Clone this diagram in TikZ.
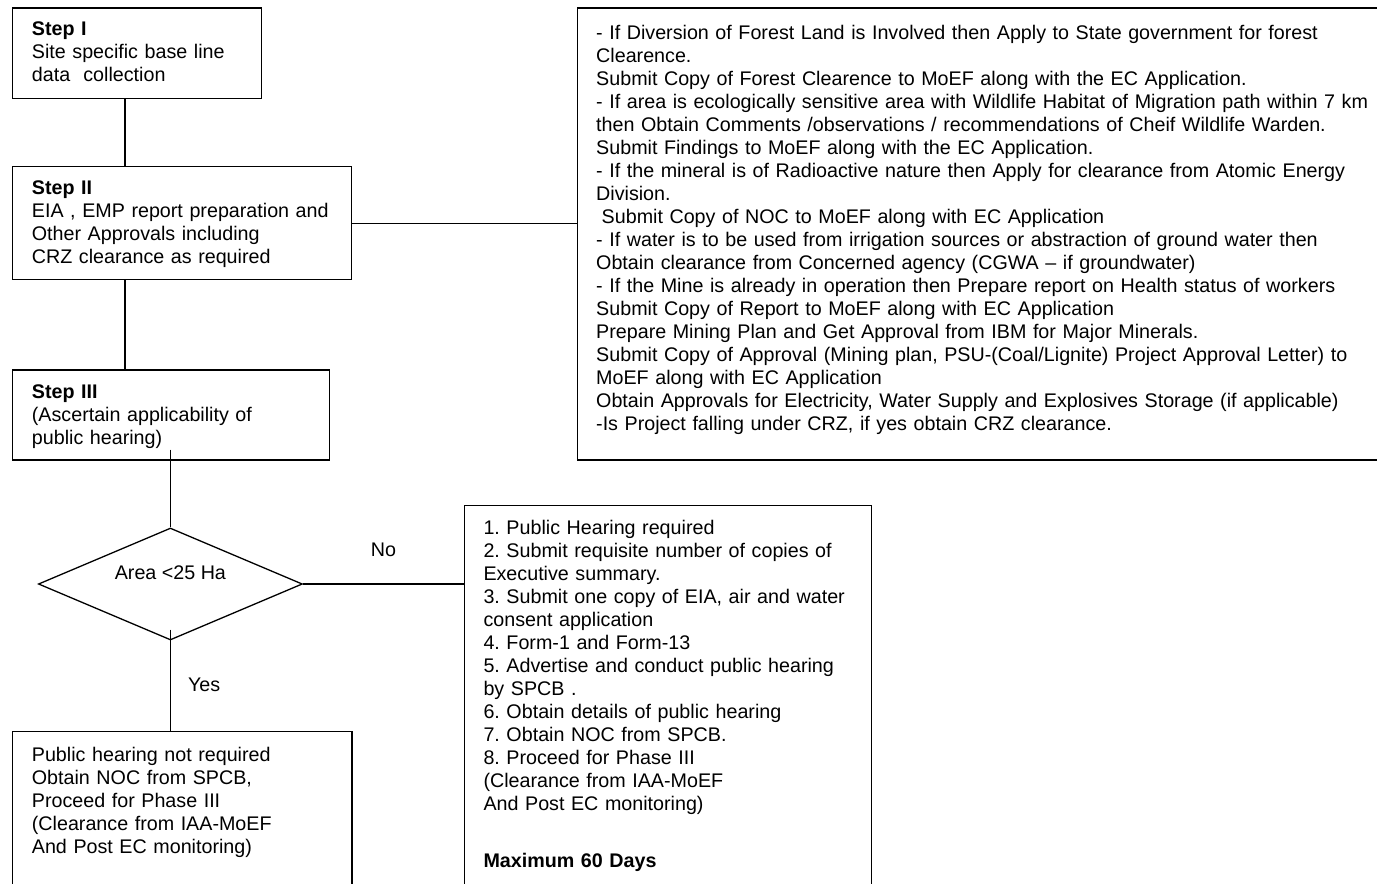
\documentclass[tikz,border=0pt]{standalone}
\usepackage{fontspec}
\setmainfont{Liberation Sans}
\usetikzlibrary{shapes.geometric,calc}
\frenchspacing

\begin{document}
\begin{tikzpicture}[x=1pt,y=-1pt,
    box/.style={draw,rectangle,line width=1.3pt,inner sep=0pt,anchor=north west},
    txt/.style={anchor=base west,inner sep=0pt,align=left,text width=#1,
        font=\fontsize{19.7pt}{23pt}\selectfont},
    link/.style={line width=1.3pt},
    lbl/.style={inner sep=0pt,font=\fontsize{19.7pt}{23pt}\selectfont}]
    % Page frame
    \useasboundingbox (0,0) rectangle (1377,884);
    \clip (0,0) rectangle (1377,884);

    % Boxes
    \node[box,minimum width=249pt,minimum height=90.7pt] (stepone) at (11.7,7.3) {};
    \node[box,minimum width=339.3pt,minimum height=113pt] (steptwo) at (11.7,166) {};
    \node[box,minimum width=317pt,minimum height=90pt] (stepthree) at (11.7,369.3) {};
    \node[box,minimum width=840pt,minimum height=452pt] (approvals) at (576.7,7.3) {};
    \node[box,minimum width=339.6pt,minimum height=180pt] (nohear) at (11.7,730.7) {};
    \node[box,minimum width=406.7pt,minimum height=400pt] (hear) at (464,505) {};

    % Decision
    \node[diamond,draw,line width=1.3pt,inner sep=0pt,
        minimum width=264pt,minimum height=112pt] (area) at (170.4,584) {};
    \node[lbl,anchor=base] (areatext) at ($(area.center)+(0,-5)$) {Area <25 Ha};

    % Box texts
    \node[txt=300pt] (onetext) at ($(stepone.north west)+(20,28.4)$)
        {\textbf{Step I}\\Site specific base line\\data~~collection};
    \node[txt=320pt] (twotext) at ($(steptwo.north west)+(20,28.3)$)
        {\textbf{Step II}\\EIA , EMP report preparation and\\Other Approvals including\\CRZ clearance as required};
    \node[txt=300pt] (threetext) at ($(stepthree.north west)+(20,29.3)$)
        {\textbf{Step III}\\(Ascertain applicability of\\public hearing)};
    \node[txt=800pt] (approvaltext) at ($(approvals.north west)+(19.3,31.7)$)
        {- If Diversion of Forest Land is Involved then Apply to State government for forest\\
        Clearence.\\
        Submit Copy of Forest Clearence to MoEF along with the EC Application.\\
        - If area is ecologically sensitive area with Wildlife Habitat of Migration path within 7 km\\
        then Obtain Comments /observations / recommendations of Cheif Wildlife Warden.\\
        Submit Findings to MoEF along with the EC Application.\\
        - If the mineral is of Radioactive nature then Apply for clearance from Atomic Energy\\
        Division.\\
        \hspace*{5.5pt}Submit Copy of NOC to MoEF along with EC Application\\
        - If water is to be used from irrigation sources or abstraction of ground water then\\
        Obtain clearance from Concerned agency (CGWA – if groundwater)\\
        - If the Mine is already in operation then Prepare report on Health status of workers\\
        Submit Copy of Report to MoEF along with EC Application\\
        Prepare Mining Plan and Get Approval from IBM for Major Minerals.\\
        Submit Copy of Approval (Mining plan, PSU-(Coal/Lignite) Project Approval Letter) to\\
        MoEF along with EC Application\\
        Obtain Approvals for Electricity, Water Supply and Explosives Storage (if applicable)\\
        -Is Project falling under CRZ, if yes obtain CRZ clearance.};
    \node[txt=320pt] (noheartext) at ($(nohear.north west)+(20,30.3)$)
        {Public hearing not required\\Obtain NOC from SPCB,\\Proceed for Phase III\\
        (Clearance from IAA-MoEF\\And Post EC monitoring)};
    \node[txt=385pt] (heartext) at ($(hear.north west)+(19.3,29.3)$)
        {1. Public Hearing required\\
        2. Submit requisite number of copies of\\
        Executive summary.\\
        3. Submit one copy of EIA, air and water\\
        consent application\\
        4. Form-1 and Form-13\\
        5. Advertise and conduct public hearing\\
        by SPCB .\\
        6. Obtain details of public hearing\\
        7. Obtain NOC from SPCB.\\
        8. Proceed for Phase III\\
        (Clearance from IAA-MoEF\\
        And Post EC monitoring)\\[34.4pt]
        \textbf{Maximum 60 Days}};

    % Connectors
    \coordinate (axis) at (125,0);
    \draw[link] (stepone.south -| axis) -- (steptwo.north -| axis);
    \draw[link] (steptwo.south -| axis) -- (stepthree.north -| axis);
    \draw[link] (steptwo.east) -- (steptwo.east -| approvals.west);
    \draw[link] ($(stepthree.south -| area.north)+(0,-11)$) -- (area.north);
    \draw[link] (area.east) -- (area.east -| hear.west)
        node[lbl,midway,above=27pt] (nolbl) {No};
    \draw[link] ($(area.south)+(0,-11)$) -- (area.south |- nohear.north)
        node[lbl,pos=0.55,right=17pt] (yeslbl) {Yes};
\end{tikzpicture}
\end{document}
